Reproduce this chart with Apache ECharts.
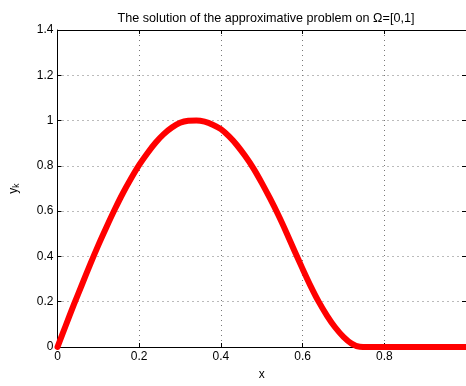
<!DOCTYPE html>
<html>
<head>
<meta charset="utf-8">
<script src="https://cdn.jsdelivr.net/npm/echarts@6/dist/echarts.min.js"></script>
<style>
  html, body { margin: 0; padding: 0; background: #fff; }
  #chart { width: 466px; height: 386px; }
</style>
</head>
<body>
<div id="chart"></div>
<script>
// values
const xs = [0, 0.02, 0.04, 0.06, 0.08, 0.10, 0.12, 0.14, 0.16, 0.18, 0.20, 0.22, 0.24, 0.26, 0.28, 0.30,
  0.32, 0.34, 0.36, 0.38, 0.40, 0.42, 0.44, 0.46, 0.48, 0.50, 0.52, 0.54, 0.56, 0.58, 0.60, 0.62,
  0.64, 0.66, 0.68, 0.70, 0.72, 0.74, 0.76, 0.80, 0.90, 1.0]
const yk = [0, 0.094, 0.187, 0.276, 0.365, 0.45, 0.53, 0.607, 0.679, 0.744, 0.804, 0.856, 0.902, 0.94, 0.969, 0.99,
  0.999, 1.0, 0.995, 0.982, 0.962, 0.93, 0.89, 0.842, 0.788, 0.725, 0.657, 0.585, 0.507, 0.425, 0.345, 0.268,
  0.198, 0.138, 0.086, 0.045, 0.015, 0.001, 0, 0, 0, 0]
const title = 'The solution of the approximative problem on \u03a9=[0,1]'

const font = 'Liberation Sans, Arial, sans-serif'
const tickStyle = { show: true, inside: true, length: 4, lineStyle: { color: '#000' } }
const dotted = { show: true, lineStyle: { color: '#777', type: [1, 4], width: 1 } }

const chart = echarts.init(document.getElementById('chart'))
chart.setOption({
  animation: false,
  backgroundColor: '#fff',
  textStyle: { fontFamily: font },
  title: {
    text: title,
    left: 261, top: 7, textAlign: 'center',
    textStyle: { fontSize: 12.6, fontWeight: 'normal', color: '#000', fontFamily: font }
  },
  grid: { left: 55, top: 30, width: 412, height: 323, containLabel: false },
  xAxis: [{
    type: 'value', min: 0, max: 1, interval: 0.2,
    name: 'x', nameLocation: 'middle', nameGap: 22,
    nameTextStyle: { color: '#000', fontSize: 12, fontFamily: font },
    axisLine: { show: true, onZero: false, lineStyle: { color: '#000', width: 1 } },
    axisTick: tickStyle,
    axisLabel: { color: '#000', fontSize: 12, margin: 4, showMaxLabel: false, fontFamily: font },
    splitLine: dotted
  }, {
    type: 'value', min: 0, max: 1, interval: 0.2, position: 'top',
    axisLine: { show: true, onZero: false, lineStyle: { color: '#000', width: 1 } },
    axisTick: tickStyle, axisLabel: { show: false }, splitLine: { show: false }
  }],
  yAxis: [{
    type: 'value', min: 0, max: 1.4, interval: 0.2,
    name: '{a|y}{b|k}', nameLocation: 'middle', nameRotate: 90, nameGap: 36,
    nameTextStyle: {
      rich: {
        a: { fontSize: 12, color: '#000', fontFamily: font },
        b: { fontSize: 8.5, color: '#000', fontFamily: font, verticalAlign: 'bottom', padding: [6, 0, 0, 0] }
      }
    },
    axisLine: { show: true, onZero: false, lineStyle: { color: '#000', width: 1 } },
    axisTick: tickStyle,
    axisLabel: { color: '#000', fontSize: 12, margin: 4, fontFamily: font },
    splitLine: dotted
  }, {
    type: 'value', min: 0, max: 1.4, interval: 0.2, position: 'right',
    axisLine: { show: true, onZero: false, lineStyle: { color: '#000', width: 1 } },
    axisTick: tickStyle, axisLabel: { show: false }, splitLine: { show: false }
  }],
  series: [{
    type: 'line',
    data: xs.map((x, i) => [x, yk[i]]),
    showSymbol: false,
    smooth: 0.3,
    clip: false,
    lineStyle: { color: '#ff0000', width: 6, cap: 'round', join: 'round' },
    z: 5
  }]
})
</script>
</body>
</html>
